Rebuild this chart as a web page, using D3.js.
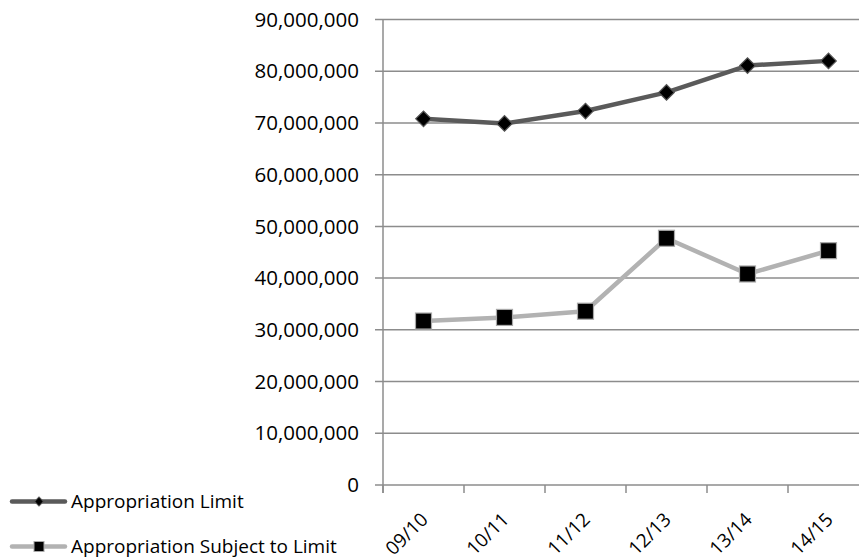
<!DOCTYPE html>
<html>
<head>
<meta charset="utf-8">
<script src="https://cdn.jsdelivr.net/npm/d3@7"></script>
<style>
  html, body { margin: 0; padding: 0; background: #fff; }
  svg text { font-family: "Open Sans", "Noto Sans", sans-serif; fill: #000; }
</style>
</head>
<body>
<svg id="chart" width="859" height="558"></svg>
<script>
// Fiscal years on the category axis
const years = ["09/10", "10/11", "11/12", "12/13", "13/14", "14/15"];
// Appropriation limit per year
const appropriationLimit = [70800000, 69900000, 72300000, 75900000, 81100000, 82000000];
// Appropriations subject to the limit per year
const subjectToLimit = [31700000, 32400000, 33600000, 47700000, 40800000, 45300000];
// Value axis ticks
const yTicks = [0, 10000000, 20000000, 30000000, 40000000, 50000000, 60000000, 70000000, 80000000, 90000000];
const seriesNames = ["Appropriation Limit", "Appropriation Subject to Limit"];

const svg = d3.select("#chart");
const plotLeft = 383, plotRight = 869, plotTop = 19.5, plotBottom = 485;

const x = d3.scaleBand().domain(years).range([plotLeft, plotRight]);
const y = d3.scaleLinear().domain([0, 90000000]).range([plotBottom, plotTop]);
const fmt = d3.format(",");

// horizontal gridlines
svg.append("g")
  .selectAll("line")
  .data(yTicks)
  .join("line")
  .attr("x1", plotLeft - 8).attr("x2", 859)
  .attr("y1", d => y(d)).attr("y2", d => y(d))
  .attr("stroke", "#8c8c8c").attr("stroke-width", 1.5);

// y axis line and labels
svg.append("line")
  .attr("x1", plotLeft).attr("x2", plotLeft)
  .attr("y1", plotTop).attr("y2", plotBottom + 8)
  .attr("stroke", "#8c8c8c").attr("stroke-width", 1.5);

svg.append("g")
  .selectAll("text")
  .data(yTicks)
  .join("text")
  .attr("x", 359).attr("y", d => y(d))
  .attr("dy", "0.35em")
  .attr("text-anchor", "end")
  .style("font-size", "20.5px")
  .text(d => fmt(d));

// x ticks at category boundaries
const boundaries = years.map(d => x(d));
svg.append("g")
  .selectAll("line")
  .data(boundaries)
  .join("line")
  .attr("x1", d => d).attr("x2", d => d)
  .attr("y1", plotBottom).attr("y2", plotBottom + 8)
  .attr("stroke", "#8c8c8c").attr("stroke-width", 1.5);

// rotated category labels
svg.append("g")
  .selectAll("text")
  .data(years)
  .join("text")
  .attr("transform", d => `translate(${x(d) + x.bandwidth() / 2 + 1},${plotBottom + 31}) rotate(-45)`)
  .attr("text-anchor", "end")
  .attr("dy", "0.35em")
  .style("font-size", "19px")
  .text(d => d);

const cx = d => x(d) + x.bandwidth() / 2;
const line = d3.line().x((d, i) => cx(years[i])).y(d => y(d));

// subject-to-limit series
svg.append("path")
  .datum(subjectToLimit)
  .attr("d", line)
  .attr("fill", "none")
  .attr("stroke", "#b2b2b2").attr("stroke-width", 4.5)
  .attr("stroke-linejoin", "round");
svg.append("g")
  .selectAll("rect")
  .data(subjectToLimit)
  .join("rect")
  .attr("x", (d, i) => cx(years[i]) - 8)
  .attr("y", d => y(d) - 8)
  .attr("width", 16).attr("height", 16)
  .attr("fill", "#000").attr("stroke", "#a8a8a8").attr("stroke-width", 1.2);

// limit series
svg.append("path")
  .datum(appropriationLimit)
  .attr("d", line)
  .attr("fill", "none")
  .attr("stroke", "#5a5a5a").attr("stroke-width", 4.5)
  .attr("stroke-linejoin", "round");
const diamond = d3.symbol().type(d3.symbolSquare).size(120);
svg.append("g")
  .selectAll("path")
  .data(appropriationLimit)
  .join("path")
  .attr("d", diamond)
  .attr("transform", (d, i) => `translate(${cx(years[i])},${y(d)}) rotate(45)`)
  .attr("fill", "#000").attr("stroke", "#555").attr("stroke-width", 1.2);

// legend
const legend = svg.append("g");
const legendY = [501.5, 546.5];
legend.append("line").attr("x1", 12).attr("x2", 65).attr("y1", legendY[0]).attr("y2", legendY[0])
  .attr("stroke", "#5a5a5a").attr("stroke-width", 4.5).attr("stroke-linecap", "round");
legend.append("path").attr("d", d3.symbol().type(d3.symbolSquare).size(40)())
  .attr("transform", `translate(39,${legendY[0]}) rotate(45)`)
  .attr("fill", "#000").attr("stroke", "#555").attr("stroke-width", 1);
legend.append("line").attr("x1", 12).attr("x2", 65).attr("y1", legendY[1]).attr("y2", legendY[1])
  .attr("stroke", "#b2b2b2").attr("stroke-width", 4.5).attr("stroke-linecap", "round");
legend.append("rect").attr("x", 34).attr("y", legendY[1] - 5).attr("width", 10).attr("height", 10)
  .attr("fill", "#000").attr("stroke", "#a8a8a8").attr("stroke-width", 1);
legend.selectAll("text")
  .data(seriesNames)
  .join("text")
  .attr("x", 71).attr("y", (d, i) => legendY[i])
  .attr("dy", "0.35em")
  .style("font-size", "19px")
  .text(d => d);
</script>
</body>
</html>
